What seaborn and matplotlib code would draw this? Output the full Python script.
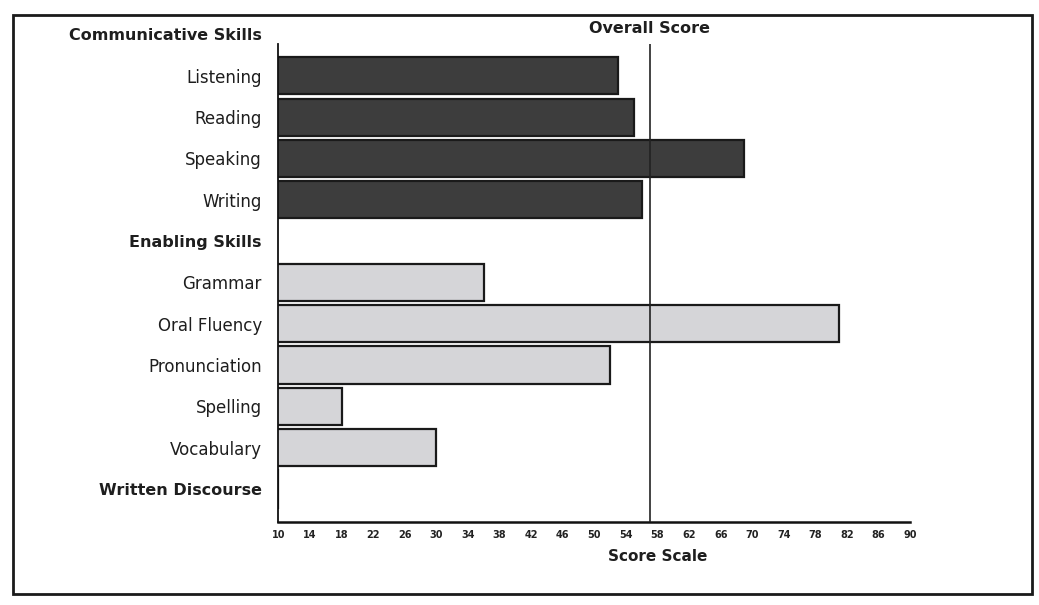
import numpy as np
import pandas as pd
import seaborn as sns
import matplotlib.pyplot as plt
from matplotlib.patches import Rectangle

# ── Data ──────────────────────────────────────────────────────────────────────
row_order = ["Communicative Skills", "Listening", "Reading", "Speaking", "Writing",
             "Enabling Skills", "Grammar", "Oral Fluency", "Pronunciation",
             "Spelling", "Vocabulary", "Written Discourse"]
headers = ["Communicative Skills", "Enabling Skills"]

skills = ["Listening", "Reading", "Speaking", "Writing",
          "Grammar", "Oral Fluency", "Pronunciation", "Spelling",
          "Vocabulary", "Written Discourse"]
scores = [53, 55, 69, 56, 36, 81, 52, 18, 30, 10]
groups = ["Communicative"] * 4 + ["Enabling"] * 6
overall_score = 57
xticks = list(range(10, 91, 4))

df = pd.DataFrame({"skill": skills, "score": scores, "group": groups})

# ── Plot ──────────────────────────────────────────────────────────────────────
sns.set_style("white")
plt.rcParams["font.family"] = ["DejaVu Sans"]

fig = plt.figure(figsize=(10.39, 6.05), dpi=100)
ax = fig.add_axes([0.268, 0.137, 0.608, 0.847])

sns.barplot(data=df, y="skill", x="score", hue="group", order=row_order,
            palette={"Communicative": "#3d3d3d", "Enabling": "#d4d4d8"},
            orient="h", width=0.9, edgecolor="#1a1a1a", linewidth=1.6,
            legend=False, ax=ax)

ax.set_xlim(10, 90)
ax.set_ylim(11.8, -0.6)
ax.set_xticks(xticks)
ax.set_xticklabels([str(t) for t in xticks], fontsize=7, fontweight="bold",
                   color="#222222")
ax.tick_params(axis="x", direction="inout", length=6, width=1, pad=3)
ax.tick_params(axis="y", length=0, pad=12)

for lab in ax.get_yticklabels():
    lab.set_fontsize(12)
    lab.set_color("#1e1e1e")
    if lab.get_text() in headers or lab.get_text() == "Written Discourse":
        lab.set_fontweight("bold")
        lab.set_fontsize(11.5)

for side in ["top", "right"]:
    ax.spines[side].set_visible(False)
ax.spines["left"].set_bounds(0.24, 11.8)
ax.spines["left"].set_linewidth(1.3)
ax.spines["bottom"].set_linewidth(1.8)
ax.spines["left"].set_color("#111111")
ax.spines["bottom"].set_color("#111111")

ax.vlines(overall_score, 0.24, 11.8, color="#222222", linewidth=1.2, zorder=5)
ax.text(overall_score, -0.15, "Overall Score", ha="center", va="center",
        fontsize=11.5, fontweight="bold", color="#1e1e1e")

ax.set_ylabel("")
ax.set_xlabel("Score Scale", fontsize=11, fontweight="bold", color="#1e1e1e",
              labelpad=0)
ax.xaxis.set_label_coords(0.6, -0.052)

# frame around the whole report block
fig.patches.append(Rectangle((13 / 1039, 1 - 594 / 605), 1019 / 1039, 579 / 605,
                             transform=fig.transFigure, fill=False,
                             edgecolor="#1a1a1a", linewidth=2))

fig.savefig("out.png", dpi=100)
